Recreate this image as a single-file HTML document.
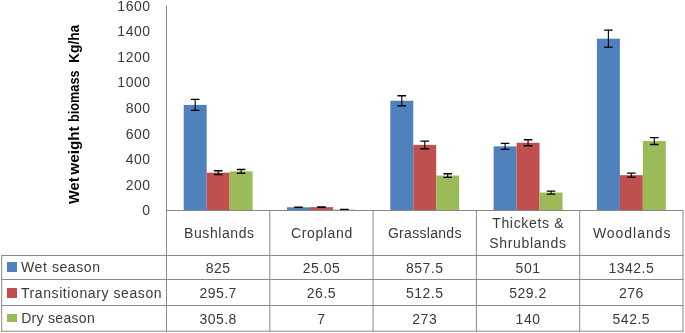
<!DOCTYPE html>
<html><head><meta charset="utf-8"><style>
html,body{margin:0;padding:0;background:#fff;}
body{width:685px;height:333px;overflow:hidden;}
svg{display:block;}
.tx{will-change:transform;}
.t{font-family:"Liberation Sans",sans-serif;font-size:14px;fill:#3a3a3a;letter-spacing:0.5px;}
.ti{font-family:"Liberation Sans",sans-serif;font-size:14px;font-weight:bold;fill:#000;}
</style></head><body>
<svg width="685" height="333" viewBox="0 0 685 333">
<rect x="183.72" y="104.90" width="22.96" height="105.60" fill="#4F81BD"/>
<rect x="206.67" y="172.65" width="22.96" height="37.85" fill="#C0504D"/>
<rect x="229.63" y="171.36" width="22.96" height="39.14" fill="#9BBB59"/>
<rect x="287.02" y="207.29" width="22.96" height="3.21" fill="#4F81BD"/>
<rect x="309.97" y="207.11" width="22.96" height="3.39" fill="#C0504D"/>
<rect x="332.93" y="209.60" width="22.96" height="0.90" fill="#9BBB59"/>
<rect x="390.32" y="100.74" width="22.96" height="109.76" fill="#4F81BD"/>
<rect x="413.27" y="144.90" width="22.96" height="65.60" fill="#C0504D"/>
<rect x="436.23" y="175.56" width="22.96" height="34.94" fill="#9BBB59"/>
<rect x="493.62" y="146.37" width="22.96" height="64.13" fill="#4F81BD"/>
<rect x="516.57" y="142.76" width="22.96" height="67.74" fill="#C0504D"/>
<rect x="539.53" y="192.58" width="22.96" height="17.92" fill="#9BBB59"/>
<rect x="596.92" y="38.66" width="22.96" height="171.84" fill="#4F81BD"/>
<rect x="619.87" y="175.17" width="22.96" height="35.33" fill="#C0504D"/>
<rect x="642.83" y="141.06" width="22.96" height="69.44" fill="#9BBB59"/>
<path d="M190.89 99.40H199.49M190.89 110.40H199.49" stroke="#000" stroke-width="1.4" fill="none"/>
<path d="M195.19 99.40V110.40" stroke="#000" stroke-width="1.1" fill="none"/>
<path d="M213.85 170.75H222.45M213.85 174.55H222.45" stroke="#000" stroke-width="1.4" fill="none"/>
<path d="M218.15 170.75V174.55" stroke="#000" stroke-width="1.1" fill="none"/>
<path d="M236.81 169.46H245.41M236.81 173.26H245.41" stroke="#000" stroke-width="1.4" fill="none"/>
<path d="M241.11 169.46V173.26" stroke="#000" stroke-width="1.1" fill="none"/>
<path d="M294.19 207.19H302.79M294.19 207.39H302.79" stroke="#000" stroke-width="1.4" fill="none"/>
<path d="M298.49 207.19V207.39" stroke="#000" stroke-width="1.1" fill="none"/>
<path d="M317.15 207.01H325.75M317.15 207.21H325.75" stroke="#000" stroke-width="1.4" fill="none"/>
<path d="M321.45 207.01V207.21" stroke="#000" stroke-width="1.1" fill="none"/>
<path d="M340.11 209.50H348.71M340.11 209.70H348.71" stroke="#000" stroke-width="1.4" fill="none"/>
<path d="M344.41 209.50V209.70" stroke="#000" stroke-width="1.1" fill="none"/>
<path d="M397.49 95.74H406.09M397.49 105.74H406.09" stroke="#000" stroke-width="1.4" fill="none"/>
<path d="M401.79 95.74V105.74" stroke="#000" stroke-width="1.1" fill="none"/>
<path d="M420.45 141.10H429.05M420.45 148.70H429.05" stroke="#000" stroke-width="1.4" fill="none"/>
<path d="M424.75 141.10V148.70" stroke="#000" stroke-width="1.1" fill="none"/>
<path d="M443.41 173.76H452.01M443.41 177.36H452.01" stroke="#000" stroke-width="1.4" fill="none"/>
<path d="M447.71 173.76V177.36" stroke="#000" stroke-width="1.1" fill="none"/>
<path d="M500.79 143.37H509.39M500.79 149.37H509.39" stroke="#000" stroke-width="1.4" fill="none"/>
<path d="M505.09 143.37V149.37" stroke="#000" stroke-width="1.1" fill="none"/>
<path d="M523.75 139.76H532.35M523.75 145.76H532.35" stroke="#000" stroke-width="1.4" fill="none"/>
<path d="M528.05 139.76V145.76" stroke="#000" stroke-width="1.1" fill="none"/>
<path d="M546.71 191.08H555.31M546.71 194.08H555.31" stroke="#000" stroke-width="1.4" fill="none"/>
<path d="M551.01 191.08V194.08" stroke="#000" stroke-width="1.1" fill="none"/>
<path d="M604.09 30.16H612.69M604.09 47.16H612.69" stroke="#000" stroke-width="1.4" fill="none"/>
<path d="M608.39 30.16V47.16" stroke="#000" stroke-width="1.1" fill="none"/>
<path d="M627.05 173.17H635.65M627.05 177.17H635.65" stroke="#000" stroke-width="1.4" fill="none"/>
<path d="M631.35 173.17V177.17" stroke="#000" stroke-width="1.1" fill="none"/>
<path d="M650.01 137.66H658.61M650.01 144.46H658.61" stroke="#000" stroke-width="1.4" fill="none"/>
<path d="M654.31 137.66V144.46" stroke="#000" stroke-width="1.1" fill="none"/>
<path d="M166.5 5.5V331.7 M166 210.5H683.5 M269.80 210.5V331.7 M373.10 210.5V331.7 M476.40 210.5V331.7 M579.70 210.5V331.7 M683.00 210.5V331.7 M1.2 255.5H683.5 M1.2 279.5H683.5 M1.2 305.5H683.5 M1.2 331.2H683.5 M1.7 255.5V331.7" stroke="#898989" stroke-width="1" fill="none"/>
<rect x="7" y="262" width="10" height="10" fill="#4F81BD"/>
<rect x="7" y="288" width="10" height="10" fill="#C0504D"/>
<rect x="7" y="314" width="10" height="8" fill="#9BBB59"/>
<g style="filter:grayscale(1)">
<text x="150.5" y="215.30" text-anchor="end" class="t">0</text>
<text x="150.5" y="189.70" text-anchor="end" class="t">200</text>
<text x="150.5" y="164.10" text-anchor="end" class="t">400</text>
<text x="150.5" y="138.50" text-anchor="end" class="t">600</text>
<text x="150.5" y="112.90" text-anchor="end" class="t">800</text>
<text x="150.5" y="87.30" text-anchor="end" class="t">1000</text>
<text x="150.5" y="61.70" text-anchor="end" class="t">1200</text>
<text x="150.5" y="36.10" text-anchor="end" class="t">1400</text>
<text x="150.5" y="10.50" text-anchor="end" class="t">1600</text>
<text x="184.10" y="238" textLength="69.90" lengthAdjust="spacing" class="t" style="letter-spacing:0">Bushlands</text>
<text x="291.00" y="238" textLength="61.20" lengthAdjust="spacing" class="t" style="letter-spacing:0">Cropland</text>
<text x="387.90" y="238" textLength="73.50" lengthAdjust="spacing" class="t" style="letter-spacing:0">Grasslands</text>
<text x="492.20" y="227.6" textLength="71.30" lengthAdjust="spacing" class="t" style="letter-spacing:0">Thickets &amp;</text>
<text x="489.30" y="247.6" textLength="76.70" lengthAdjust="spacing" class="t" style="letter-spacing:0">Shrublands</text>
<text x="592.90" y="238" textLength="77.50" lengthAdjust="spacing" class="t" style="letter-spacing:0">Woodlands</text>
<text x="21.00" y="272" textLength="79.00" lengthAdjust="spacing" class="t" style="letter-spacing:0">Wet season</text>
<text x="218.15" y="272.60" text-anchor="middle" class="t">825</text>
<text x="321.45" y="272.60" text-anchor="middle" class="t">25.05</text>
<text x="424.75" y="272.60" text-anchor="middle" class="t">857.5</text>
<text x="528.05" y="272.60" text-anchor="middle" class="t">501</text>
<text x="631.35" y="272.60" text-anchor="middle" class="t">1342.5</text>
<text x="20.90" y="297.8" textLength="140.70" lengthAdjust="spacing" class="t" style="letter-spacing:0">Transitionary season</text>
<text x="218.15" y="298.40" text-anchor="middle" class="t">295.7</text>
<text x="321.45" y="298.40" text-anchor="middle" class="t">26.5</text>
<text x="424.75" y="298.40" text-anchor="middle" class="t">512.5</text>
<text x="528.05" y="298.40" text-anchor="middle" class="t">529.2</text>
<text x="631.35" y="298.40" text-anchor="middle" class="t">276</text>
<text x="21.20" y="323" textLength="73.50" lengthAdjust="spacing" class="t" style="letter-spacing:0">Dry season</text>
<text x="218.15" y="323.60" text-anchor="middle" class="t">305.8</text>
<text x="321.45" y="323.60" text-anchor="middle" class="t">7</text>
<text x="424.75" y="323.60" text-anchor="middle" class="t">273</text>
<text x="528.05" y="323.60" text-anchor="middle" class="t">140</text>
<text x="631.35" y="323.60" text-anchor="middle" class="t">542.5</text>
<text transform="translate(79 0) rotate(-90)" x="-204.00" y="0" textLength="26.50" lengthAdjust="spacingAndGlyphs" class="ti">Wet</text>
<text transform="translate(79 0) rotate(-90)" x="-174.70" y="0" textLength="48.30" lengthAdjust="spacingAndGlyphs" class="ti">weight</text>
<text transform="translate(79 0) rotate(-90)" x="-122.00" y="0" textLength="51.60" lengthAdjust="spacingAndGlyphs" class="ti">biomass</text>
<text transform="translate(79 0) rotate(-90)" x="-62.90" y="0" textLength="38.10" lengthAdjust="spacingAndGlyphs" class="ti">Kg/ha</text>
</g>
</svg>
</body></html>
